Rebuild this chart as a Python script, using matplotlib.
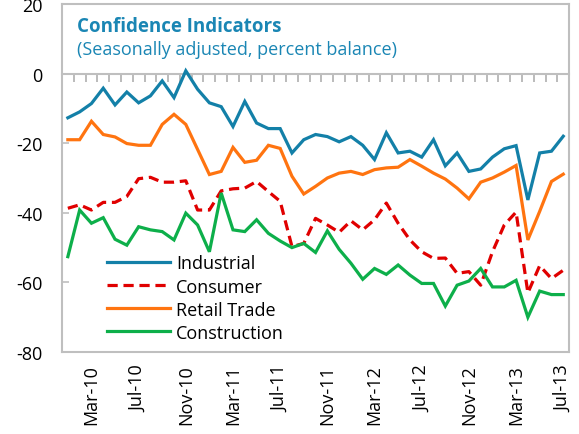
import numpy as np
import pandas as pd
import matplotlib
matplotlib.use("Agg")
import matplotlib.pyplot as plt
import matplotlib.transforms as mtransforms

plt.rcParams['font.family'] = ['Open Sans', 'DejaVu Sans']
plt.rcParams['axes.unicode_minus'] = False

# monthly, Jan-2010 .. Jul-2013
months = pd.date_range("2010-01-01", "2013-07-01", freq="MS")
month_labels = [d.strftime("%b-%y") for d in months]

industrial = [-12.7, -11, -8.6, -4.2, -9, -5.3, -8.4, -6.4, -2.1, -6.9, 0.8,
              -4.5, -8.4, -9.5, -15.2, -8, -14.2, -15.8, -15.8, -22.8, -19,
              -17.5, -18.1, -19.6, -18.1, -20.6, -24.7, -17, -22.8, -22.3, -24,
              -19, -26.5, -22.8, -28.1, -27.4, -24, -21.6, -20.7, -36.3, -22.8,
              -22.3, -18]
consumer = [-38.7, -37.7, -39.2, -37, -37, -35.3, -30.2, -29.8, -31.2, -31.2, -30.8,
            -39.2, -39.2, -33.7, -33.1, -32.9, -31, -33.9, -36.7, -49.7, -48.8,
            -41.6, -43.5, -45.6, -42.3, -44.9, -42, -37.2, -43, -47.8, -51.2,
            -53.1, -53, -57.4, -56.9, -60.8, -51.2, -43.5, -39.8, -63, -55.2,
            -58.9, -56.5]
retail = [-19, -19, -13.7, -17.5, -18.2, -20.1, -20.6, -20.6, -14.6, -11.7, -14.6,
          -21.8, -29, -28.1, -21.2, -25.5, -24.9, -20.6, -21.5, -29.5, -34.6,
          -32.4, -30, -28.6, -28.1, -29, -27.6, -27.1, -26.9, -24.7, -26.6,
          -28.6, -30.3, -32.9, -36, -31.2, -30, -28.3, -26.4, -47.8, -39.6,
          -31, -28.9]
construction = [-52.6, -39.2, -43, -41.4, -47.6, -49.3, -44, -44.9, -45.4, -47.8, -40.1,
                -43.5, -51.2, -34.3, -44.9, -45.4, -42, -45.9, -48.1, -50, -48.8,
                -51.4, -45.2, -50.5, -54.5, -59.1, -56, -57.7, -55, -57.9, -60.3,
                -60.3, -66.8, -60.8, -59.6, -56, -61.3, -61.3, -59.4, -70, -62.5,
                -63.5, -63.5]

series_names = ["Industrial", "Consumer", "Retail Trade", "Construction"]
series_colors = ["#1380A8", "#E00000", "#FF7410", "#0DAF4A"]

fig = plt.figure(figsize=(5.79, 4.35), dpi=100)
ax = fig.add_axes([0.107, 0.1885, 0.876, 0.8])

gray = "#BFBFBF"

x = np.arange(len(months))
for vals, name, col in zip([industrial, consumer, retail, construction],
                           series_names, series_colors):
    ls = (0, (3.2, 1.8)) if name == "Consumer" else "-"
    ax.plot(x, vals, color=col, lw=2.3, ls=ls, label=name, zorder=3,
            solid_joinstyle="miter", dash_capstyle="butt")

ax.set_xlim(-0.45, len(months) - 0.7)
ax.set_ylim(-80, 20)

for s in ax.spines.values():
    s.set_color(gray)
    s.set_linewidth(1.5)

# category axis crosses at zero, month tick marks hang below it
ax.spines["bottom"].set_position(("data", 0))
ax.set_xticks(np.arange(-0.5, len(months), 1.0))
ax.set_xticklabels([])
ax.tick_params(axis="x", bottom=True, direction="out", length=6, width=1.3,
               color="#B5B5B5")
# frame line along the bottom edge
ax.axhline(-80, color=gray, lw=1.5, clip_on=False)

# y axis
ax.set_yticks(np.arange(-80, 21, 20))
ax.tick_params(axis="y", direction="in", length=5, width=1.2, color=gray,
               labelsize=13, pad=14)

# date labels every 4 months under the plot
trans = mtransforms.blended_transform_factory(ax.transData, ax.transAxes)
for i in np.arange(2, len(months), 4):
    ax.text(i, -0.035, month_labels[i], transform=trans, rotation=90,
            ha="center", va="top", fontsize=13)

ax.text(0.03, 0.937, "Confidence Indicators", transform=ax.transAxes,
        fontsize=13.5, fontweight="bold", color="#1A86B4", va="center")
ax.text(0.03, 0.871, "(Seasonally adjusted, percent balance)", transform=ax.transAxes,
        fontsize=13, color="#1A86B4", va="center")

ax.legend(loc="center left", bbox_to_anchor=(0.088, 0.155), frameon=False,
          fontsize=13, handlelength=3.5, handletextpad=0.35, labelspacing=0.28,
          borderpad=0, borderaxespad=0)

fig.savefig("out.png", dpi=100)
